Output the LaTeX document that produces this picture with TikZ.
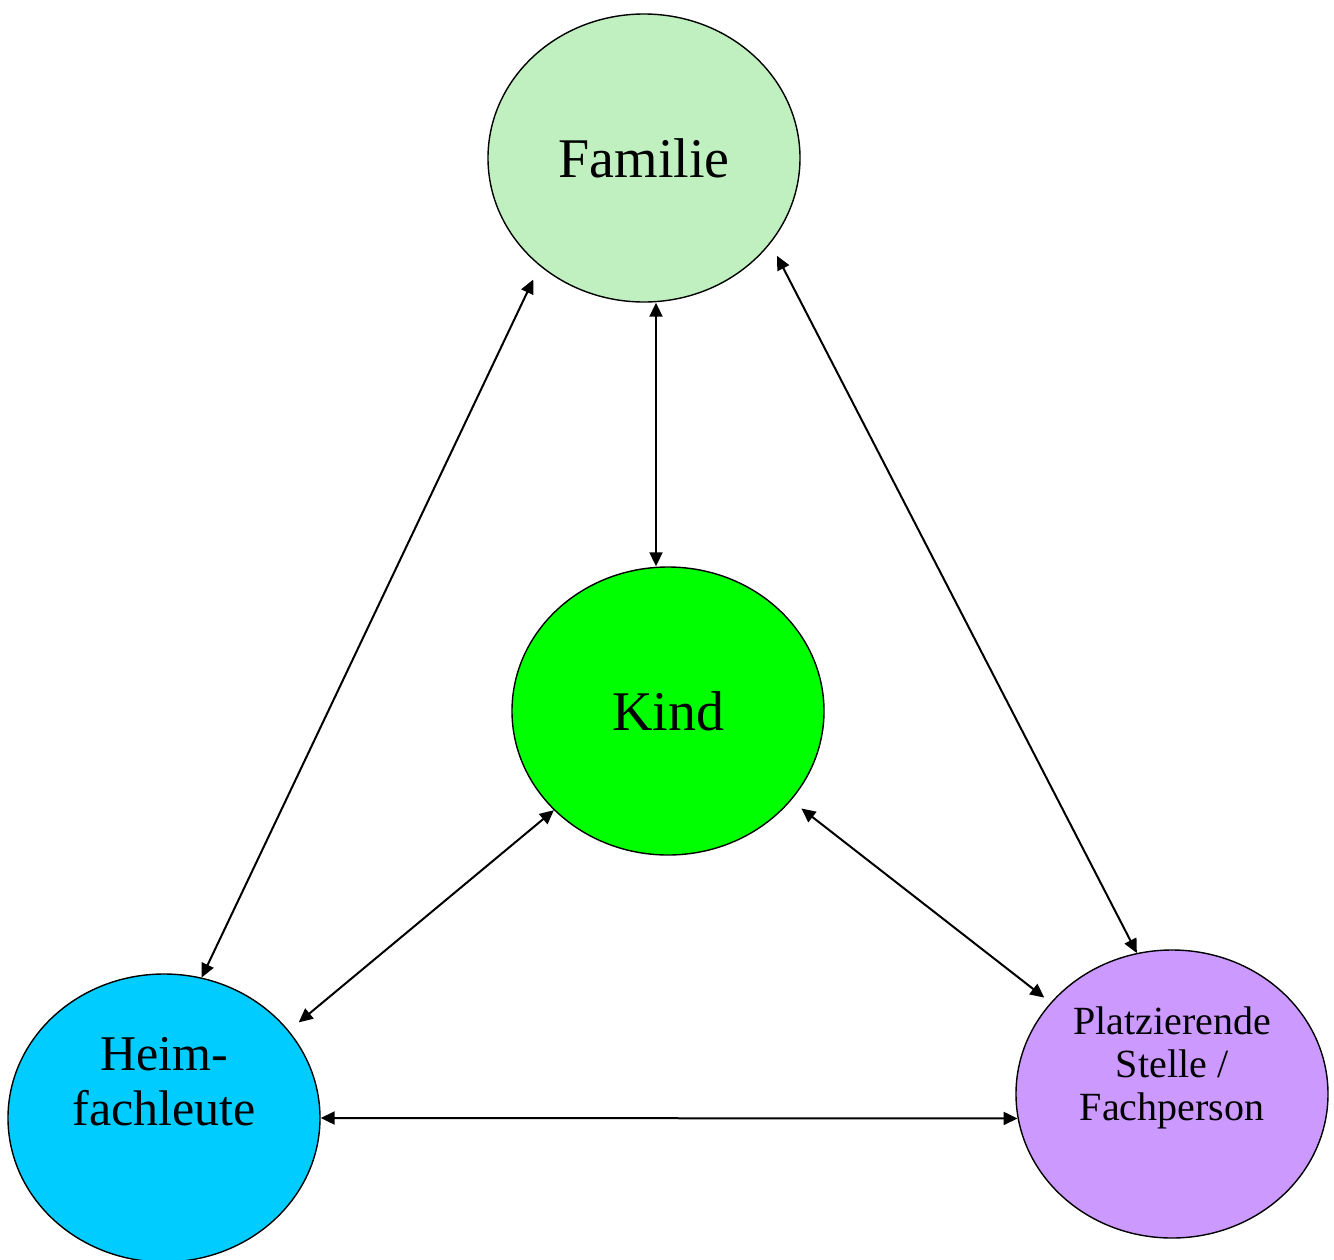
\documentclass[tikz,border=0pt]{standalone}
\usepackage{fontspec}
\setmainfont{Liberation Serif}
\usetikzlibrary{arrows.meta,calc,shapes.geometric}
\definecolor{famgreen}{RGB}{192,240,192}
\definecolor{kindgreen}{RGB}{0,255,0}
\definecolor{heimblue}{RGB}{0,204,255}
\definecolor{platzviolet}{RGB}{204,153,255}
\tikzset{
  blob/.style={ellipse, draw=black, line width=0.7pt, inner sep=0pt,
    minimum width=156pt, minimum height=144pt},
  bigtext/.style={font=\fontsize{28}{32}\selectfont},
  heimtext/.style={font=\fontsize{25}{27.5}\selectfont, align=center, inner sep=0pt},
  platztext/.style={font=\fontsize{20}{21.5}\selectfont, align=center, inner sep=0pt},
  link/.style={line width=1pt, {Triangle[length=7pt,width=6.5pt]}-{Triangle[length=7pt,width=6.5pt]}}
}
\begin{document}
\begin{tikzpicture}[x=0.5pt,y=-0.5pt]
\useasboundingbox (0,0) rectangle (1334,1259);
\node[blob, fill=famgreen, bigtext] (fam) at (644,158) {Familie};
\node[blob, fill=kindgreen, bigtext] (kind) at (668,711) {Kind};
\node[blob, fill=heimblue] (heim) at (164,1118) {};
\node[blob, fill=platzviolet] (platz) at (1172,1094) {};
\node[heimtext] (heimtxt) at (164,1082) {Heim-\\fachleute};
\node[platztext] (platztxt) at (1172,1068) {Platzierende\\Stelle /\\Fachperson};
\draw[link] ($(fam.south)+(12,0)$) -- ($(kind.north)+(-12,0)$);
\draw[link, shorten <=7.5pt] (fam.226.6) -- (heim.75.6);
\draw[link, shorten <=7pt] (fam.326.3) -- (platz.104.4);
\draw[link, shorten >=6.4pt] (kind.221.4) -- (heim.35.5);
\draw[link, shorten <=6.5pt, shorten >=4pt] (kind.324.1) -- (platz.143.9);
\draw[link] (heim.east) -- (platz.189);
\end{tikzpicture}
\end{document}
